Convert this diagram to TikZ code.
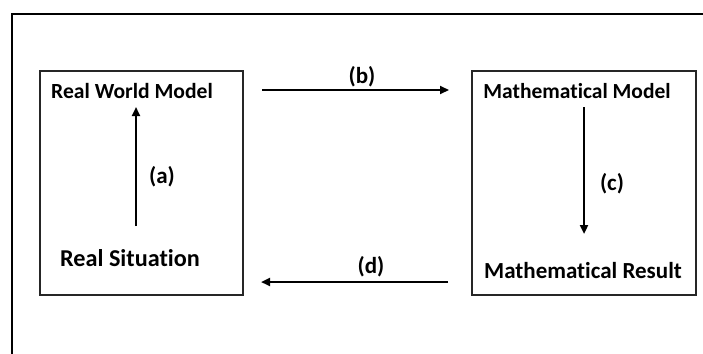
\documentclass[tikz,border=0pt]{standalone}
\usepackage{fontspec}
\setmainfont{Carlito}[Ligatures=NoCommon]
\usetikzlibrary{arrows.meta}
\tikzset{
  panel/.style={draw=black!85, line width=1.3pt, minimum width=#1, minimum height=224pt, inner sep=0pt},
  txt/.style={font=\bfseries\fontsize{#1}{#1}\selectfont, anchor=base, inner sep=0pt},
  lbl/.style={font=\bfseries\fontsize{23}{23}\selectfont, inner sep=0pt},
  flow/.style={line width=2.2pt, -{Triangle[length=9pt,width=8pt]}},
  frame/.style={line width=2.2pt}
}
\begin{document}
\begin{tikzpicture}[x=1pt,y=-1pt]
\useasboundingbox (0,0) rectangle (703,353);
% outer frame
\coordinate (fb) at (12,354);
\coordinate (fc) at (12,14);
\coordinate (fr) at (704,14);
\draw[frame] (fb) -- (fc) -- (fr);
% boxes
\node[panel=203pt] (left) at (141.5,183) {};
\node[panel=224pt] (right) at (584,183) {};
% texts
\node[txt=21.6] (rwm) at (132,98) {Real World Model};
\node[txt=24.2] (rs) at (130,266.7) {Real Situation};
\node[txt=21.5] (mm) at (577,98.3) {Mathematical Model};
\node[txt=23] (mr) at (583,278) {Mathematical Result};
% arrow ends
\coordinate (a0) at (136,226);
\coordinate (a1) at (136,107);
\coordinate (b0) at (262,90);
\coordinate (b1) at (449,90);
\coordinate (c0) at (584,107);
\coordinate (c1) at (584,234);
\coordinate (d0) at (448,282);
\coordinate (d1) at (261,282);
\draw[flow] (a0) -- (a1);
\draw[flow] (b0) -- (b1);
\draw[flow] (c0) -- (c1);
\draw[flow] (d0) -- (d1);
% labels
\node[lbl] (la) at (162,177) {(a)};
\node[lbl] (lb) at (362,77) {(b)};
\node[lbl] (lc) at (612,184) {(c)};
\node[lbl] (ld) at (371,267) {(d)};
\end{tikzpicture}
\end{document}
